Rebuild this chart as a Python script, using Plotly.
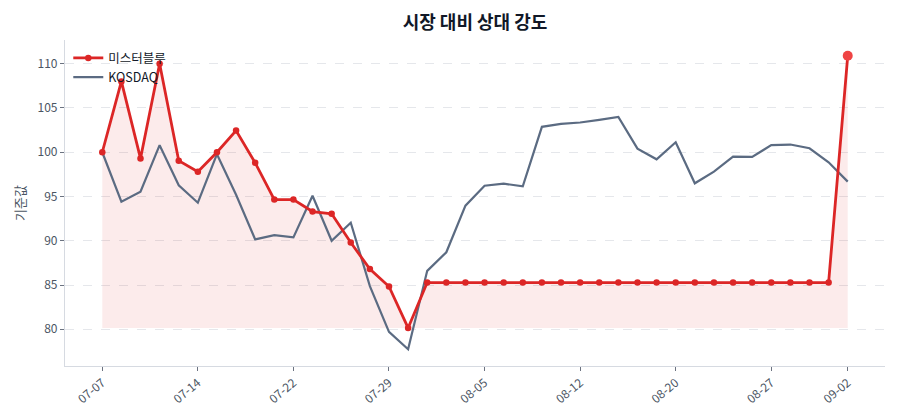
import plotly.graph_objects as go

# trading days (MM-DD)
dates = ["07-07", "07-08", "07-09", "07-10", "07-11",
         "07-14", "07-15", "07-16", "07-17", "07-18",
         "07-22", "07-23", "07-24", "07-25", "07-28",
         "07-29", "07-30", "07-31", "08-01", "08-04",
         "08-05", "08-06", "08-07", "08-08", "08-11",
         "08-12", "08-13", "08-14", "08-18", "08-19",
         "08-20", "08-21", "08-22", "08-25", "08-26",
         "08-27", "08-28", "08-29", "09-01", "09-02"]

stock = [100.0, 108.0, 99.3, 110.0, 99.05, 97.8, 100.0, 102.45, 98.8, 94.65,
         94.65, 93.3, 93.05, 89.8, 86.8, 84.83, 80.15, 85.28, 85.28, 85.28,
         85.28, 85.28, 85.28, 85.28, 85.28, 85.28, 85.28, 85.28, 85.28, 85.28,
         85.28, 85.28, 85.28, 85.28, 85.28, 85.28, 85.28, 85.28, 85.28, 110.9]

kosdaq = [100.0, 94.41, 95.55, 100.8, 96.27, 94.3, 99.78, 95.2, 90.15, 90.64,
          90.38, 95.09, 90.0, 92.04, 84.87, 79.7, 77.74, 86.6, 88.7, 93.96,
          96.22, 96.45, 96.15, 102.87, 103.2, 103.36, 103.66, 104.0, 100.41, 99.2,
          101.13, 96.49, 97.81, 99.51, 99.47, 100.8, 100.87, 100.45, 98.87, 96.68]

tick_labels = ["07-07", "07-14", "07-22", "07-29", "08-05",
               "08-12", "08-20", "08-27", "09-02"]

stock_name = "미스터블루"
bench_name = "KOSDAQ"

RED = "#dc2626"
GRAY = "#5b6b82"
FONT = "Noto Sans CJK KR"

x_idx = list(range(len(dates)))
tick_pos = [dates.index(t) for t in tick_labels]
base = min(stock)

fig = go.Figure()

# fill under the stock line down to its minimum
fig.add_trace(go.Scatter(x=x_idx, y=[base] * len(dates), mode="lines",
                         line=dict(width=0), hoverinfo="skip", showlegend=False))
fig.add_trace(go.Scatter(x=x_idx, y=stock, mode="lines", fill="tonexty",
                         fillcolor="rgba(220,38,38,0.09)",
                         line=dict(width=0), hoverinfo="skip", showlegend=False))

fig.add_trace(go.Scatter(x=x_idx, y=kosdaq, mode="lines", name=bench_name,
                         line=dict(color=GRAY, width=2.2)))
fig.add_trace(go.Scatter(x=x_idx, y=stock, mode="lines+markers", name=stock_name,
                         line=dict(color=RED, width=2.8),
                         marker=dict(color=RED, size=6.5)))
# highlight latest point
fig.add_trace(go.Scatter(x=[x_idx[-1]], y=[stock[-1]], mode="markers",
                         marker=dict(color="#ef4444", size=10),
                         showlegend=False))

# page body has an 8px margin, so the figure is a bit smaller than the window
fig.update_layout(
    width=892, height=412,
    margin=dict(l=57, r=15, t=32, b=54, autoexpand=False),
    paper_bgcolor="white", plot_bgcolor="white",
    font=dict(family=FONT, size=12, color="#374151"),
    title=dict(text="<b>시장 대비 상대 강도</b>", x=0.5, xanchor="center",
               xref="paper", y=0.965, yref="container", yanchor="middle",
               font=dict(family=FONT, size=18, color="#111827")),
    legend=dict(x=0.004, y=0.99, xanchor="left", yanchor="top",
                bgcolor="rgba(0,0,0,0)", traceorder="reversed",
                font=dict(family=FONT, size=12.5, color="#111827"),
                itemwidth=30, tracegroupgap=0),
    showlegend=True,
)

fig.update_xaxes(
    range=[-1.95, len(dates) - 1 + 1.95],
    tickmode="array", tickvals=tick_pos, ticktext=tick_labels,
    tickangle=-40, ticks="outside", ticklen=4, tickcolor="#6b7280",
    tickfont=dict(size=12, color="#4b5563"),
    showgrid=False, zeroline=False, automargin=False,
    showline=True, linecolor="#d6dae1", linewidth=1.2,
)
fig.update_yaxes(
    range=[75.85, 112.68],
    tickvals=[80, 85, 90, 95, 100, 105, 110],
    ticks="outside", ticklen=4, tickcolor="#6b7280",
    tickfont=dict(size=12, color="#4b5563"),
    showgrid=True, gridcolor="#e5e7eb", griddash="dash", gridwidth=1,
    zeroline=False, showline=True, linecolor="#d6dae1", linewidth=1.2,
    automargin=False,
    title=dict(text="기준값", font=dict(size=13, color="#4b5563"), standoff=8),
)

fig.write_html("out.html")
